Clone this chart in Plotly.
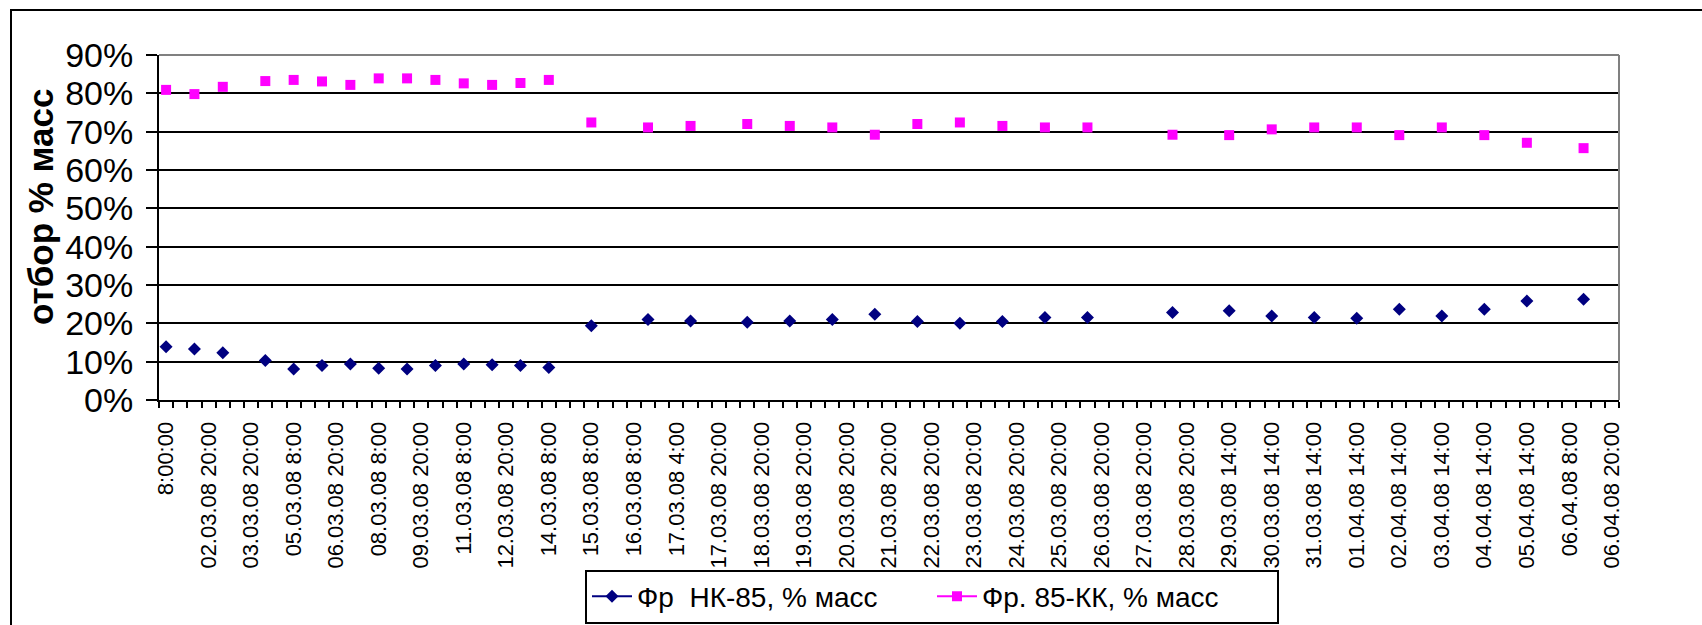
import plotly.graph_objects as go

# ---- data ----
n_categories = 103
tick_labels = [
    "8:00:00", "02.03.08 20:00", "03.03.08 20:00", "05.03.08 8:00", "06.03.08 20:00",
    "08.03.08 8:00", "09.03.08 20:00", "11.03.08 8:00", "12.03.08 20:00", "14.03.08 8:00",
    "15.03.08 8:00", "16.03.08 8:00", "17.03.08 4:00", "17.03.08 20:00", "18.03.08 20:00",
    "19.03.08 20:00", "20.03.08 20:00", "21.03.08 20:00", "22.03.08 20:00", "23.03.08 20:00",
    "24.03.08 20:00", "25.03.08 20:00", "26.03.08 20:00", "27.03.08 20:00", "28.03.08 20:00",
    "29.03.08 14:00", "30.03.08 14:00", "31.03.08 14:00", "01.04.08 14:00", "02.04.08 14:00",
    "03.04.08 14:00", "04.04.08 14:00", "05.04.08 14:00", "06.04.08 8:00", "06.04.08 20:00",
]
label_step = 3
point_idx = [0, 2, 4, 7, 9, 11, 13, 15, 17, 19, 21, 23, 25, 27, 30, 34, 37, 41, 44, 47,
             50, 53, 56, 59, 62, 65, 71, 75, 78, 81, 84, 87, 90, 93, 96, 100]
nk85 = [13.9, 13.3, 12.3, 10.3, 8.1, 9.0, 9.4, 8.3, 8.1, 9.0, 9.4, 9.2, 9.0, 8.5, 19.4,
        21.0, 20.6, 20.3, 20.6, 21.0, 22.4, 20.5, 20.0, 20.5, 21.5, 21.5, 22.8, 23.3,
        21.9, 21.5, 21.3, 23.7, 21.9, 23.7, 25.8, 26.3]
kk85 = [80.9, 79.8, 81.7, 83.2, 83.5, 83.1, 82.2, 83.9, 83.9, 83.5, 82.6, 82.2, 82.7, 83.5,
        72.4, 71.1, 71.5, 72.0, 71.5, 71.1, 69.2, 72.0, 72.4, 71.5, 71.1, 71.1, 69.2, 69.1,
        70.6, 71.1, 71.1, 69.1, 71.1, 69.1, 67.1, 65.7]
name_nk = "Фр\u00a0\u00a0НК-85, % масс"
name_kk = "Фр. 85-КК, % масс"
y_title = "отбор % масс"


def full_series(vals):
    arr = [None] * n_categories
    for i, v in zip(point_idx, vals):
        arr[i] = v / 100.0
    return arr


x_all = list(range(n_categories))
FONT = "Liberation Sans, Arial, sans-serif"

fig = go.Figure()
fig.add_trace(go.Scatter(
    x=x_all, y=full_series(nk85), name=name_nk, mode="lines+markers",
    connectgaps=False,
    line=dict(color="#000080", width=2),
    marker=dict(symbol="diamond", size=10, color="#000080"),
))
fig.add_trace(go.Scatter(
    x=x_all, y=full_series(kk85), name=name_kk, mode="lines+markers",
    connectgaps=False,
    line=dict(color="#FF00FF", width=2),
    marker=dict(symbol="square", size=10, color="#FF00FF"),
))

W, H = 1702, 625
L, R, T, B = 159, 83, 55, 225
pw, ph = W - L - R, H - T - B

fig.update_layout(
    width=W, height=H, autosize=False,
    margin=dict(l=L, r=R, t=T, b=B, autoexpand=False),
    paper_bgcolor="white", plot_bgcolor="white",
    font=dict(family=FONT, color="black"),
    showlegend=True,
    legend=dict(
        orientation="h",
        xref="container", x=932 / W, xanchor="center",
        yref="container", y=1.5 / H, yanchor="bottom",
        bordercolor="black", borderwidth=2, bgcolor="white",
        font=dict(size=28, family=FONT),
        itemwidth=40,
        entrywidth=290,
    ),
    xaxis=dict(
        range=[-0.5, n_categories - 0.5],
        tickmode="array",
        tickvals=[i * label_step for i in range(len(tick_labels))],
        ticktext=tick_labels,
        tickangle=-90,
        tickfont=dict(size=22, family=FONT),
        ticks="outside", ticklen=6, tickcolor="rgba(0,0,0,0)",
        ticklabelstandoff=5,
        minor=dict(ticks="outside", ticklen=6, tickwidth=1.5, tickcolor="black",
                   tick0=-0.5, dtick=1, showgrid=False),
        showline=True, linecolor="black", linewidth=2,
        showgrid=False, zeroline=False, automargin=False,
    ),
    yaxis=dict(
        range=[0, 0.9],
        tickmode="linear", tick0=0, dtick=0.1,
        tickformat=".0%",
        tickfont=dict(size=34, family=FONT),
        ticks="outside", ticklen=11, tickwidth=2, tickcolor="black",
        ticklabelstandoff=6,
        showline=True, linecolor="black", linewidth=2,
        showgrid=True, gridcolor="black", gridwidth=1.5,
        zeroline=False, automargin=False,
    ),
    annotations=[
        dict(text="<b>" + y_title + "</b>", textangle=-90, showarrow=False,
             xref="paper", yref="paper",
             x=(40 - L) / pw, y=(H - B - 207) / ph,
             xanchor="center", yanchor="middle",
             font=dict(size=35, family=FONT, color="black")),
    ],
    shapes=[
        # plot-area border (top and right, gray)
        dict(type="line", xref="paper", yref="paper", x0=0, x1=1, y0=1, y1=1,
             line=dict(color="#808080", width=2)),
        dict(type="line", xref="paper", yref="paper", x0=1, x1=1, y0=0, y1=1,
             line=dict(color="#808080", width=2)),
        # chart outer border
        dict(type="rect", xref="paper", yref="paper",
             x0=(11 - L) / pw, x1=1.3, y0=-1.0, y1=(H - B - 10) / ph,
             line=dict(color="black", width=2), layer="below"),
    ],
)

fig.write_html("out.html")
